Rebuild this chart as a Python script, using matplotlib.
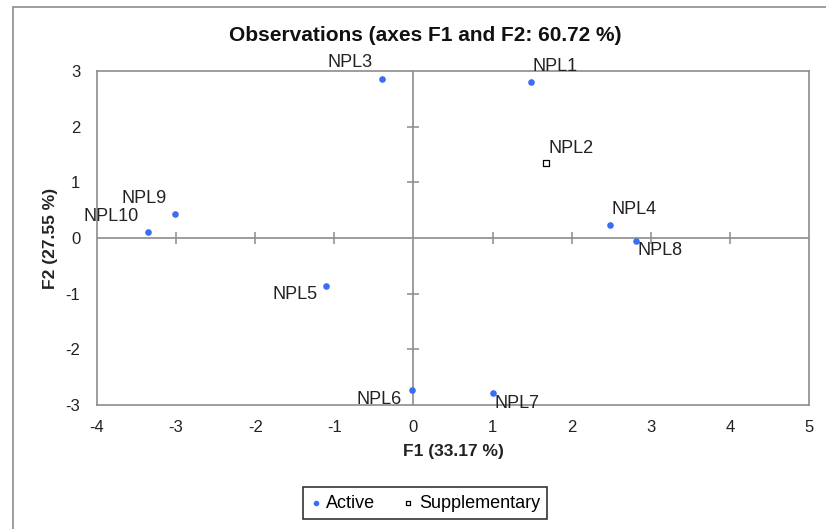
import matplotlib.pyplot as plt
from matplotlib.patches import Rectangle

plt.rcParams['font.family'] = ['Liberation Sans', 'DejaVu Sans']
plt.rcParams['axes.unicode_minus'] = False

# active observations (F1, F2 coordinates)
active_names = ['NPL1', 'NPL3', 'NPL4', 'NPL5', 'NPL6', 'NPL7', 'NPL8', 'NPL9', 'NPL10']
active_f1 = [1.48, -0.40, 2.48, -1.10, -0.02, 1.01, 2.81, -3.01, -3.35]
active_f2 = [2.81, 2.86, 0.24, -0.86, -2.73, -2.78, -0.05, 0.43, 0.11]

# supplementary observation
supp_names = ['NPL2']
supp_f1 = [1.68]
supp_f2 = [1.34]

xticks = [-4, -3, -2, -1, 0, 1, 2, 3, 4, 5]
yticks = [-3, -2, -1, 0, 1, 2, 3]

# where each label sits relative to its point: (dx, dy in points, ha)
label_pos = {
    'NPL1': (1.5, 11, 'left'), 'NPL2': (1.5, 11, 'left'), 'NPL3': (-6.5, 11.5, 'right'),
    'NPL4': (1.5, 11, 'left'), 'NPL5': (-6.5, -6.5, 'right'), 'NPL6': (-7, -7, 'right'),
    'NPL7': (0.5, -7.5, 'left'), 'NPL8': (1.5, -7, 'left'), 'NPL9': (-6.5, 11, 'right'),
    'NPL10': (-7, 11, 'right'),
}

fig = plt.figure(figsize=(8.26, 5.29), dpi=100)
ax = fig.add_axes([0.1174, 0.2344, 0.862, 0.6314])

gray = '#8c8c8c'
blue = '#3b6cf5'

# outer frame of the chart area
fig.patches.append(Rectangle((13 / 826, -0.1), 1.2, 1.1 - 7 / 529, transform=fig.transFigure,
                             fill=False, edgecolor=gray, lw=1.2))

ax.axhline(0, color=gray, lw=1.2, zorder=1)
ax.axvline(0, color=gray, lw=1.2, zorder=1)

# tick marks crossing the zero lines
inner_x = [t for t in xticks[1:-1] if t != 0]
inner_y = [t for t in yticks[1:-1] if t != 0]
ax.plot(inner_x, [0] * len(inner_x), ls='none', marker='|', ms=9, mew=1.1, color=gray, zorder=1)
ax.plot([0] * len(inner_y), inner_y, ls='none', marker='_', ms=9, mew=1.1, color=gray, zorder=1)

ax.scatter(active_f1, active_f2, s=14, color=blue, label='Active', zorder=3)
ax.scatter(supp_f1, supp_f2, s=14, marker='s', facecolor='white', edgecolor='black',
           linewidth=0.9, label='Supplementary', zorder=3)

for names, xs, ys in [(active_names, active_f1, active_f2), (supp_names, supp_f1, supp_f2)]:
    for n, x, y in zip(names, xs, ys):
        dx, dy, ha = label_pos[n]
        ax.annotate(n, (x, y), xytext=(dx, dy), textcoords='offset points',
                    ha=ha, va='center', fontsize=13, color='#222222', zorder=4)

ax.set_xlim(-4, 5)
ax.set_ylim(-3, 3)
ax.set_xticks(xticks)
ax.set_yticks(yticks)
ax.tick_params(length=0, labelsize=12, colors='#222222')
ax.tick_params(axis='x', pad=11)
ax.tick_params(axis='y', pad=12)
for s in ax.spines.values():
    s.set_color(gray)
    s.set_linewidth(1.2)

fig.text(453 / 826, 0.146, 'F1 (33.17 %)', ha='center', va='center',
         fontsize=12.5, fontweight='bold', color='#222222')
fig.text(50 / 826, 0.55, 'F2 (27.55 %)', ha='center', va='center', rotation=90,
         fontsize=12.5, fontweight='bold', color='#222222')
fig.text(425 / 826, 0.932, 'Observations (axes F1 and F2: 60.72 %)', ha='center', va='center',
         fontsize=15, fontweight='bold', color='#111111')

leg = fig.legend(loc='center', bbox_to_anchor=(425 / 826, 0.049), ncol=2, fontsize=13,
                 frameon=True, fancybox=False, handlelength=0.6, handletextpad=0.3,
                 columnspacing=1.5, borderpad=0.4, borderaxespad=0, markerscale=0.8)
leg.get_frame().set_edgecolor('black')
leg.get_frame().set_linewidth(1.2)

fig.savefig('out.png', dpi=100)
